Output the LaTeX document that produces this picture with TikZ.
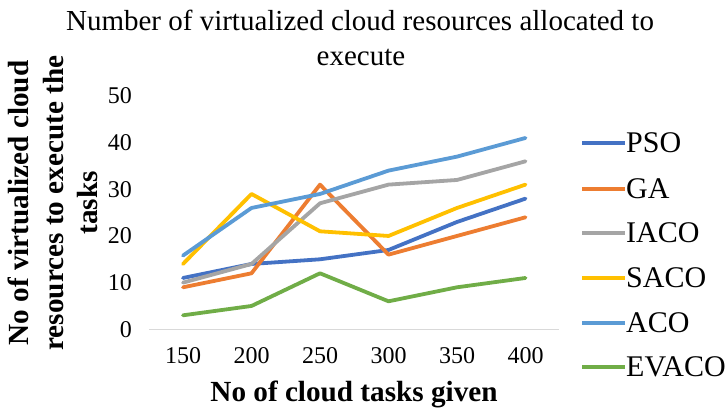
\documentclass[tikz,border=0pt]{standalone}
\usepackage{fontspec}
\setmainfont{Liberation Serif}
\definecolor{cPSO}{HTML}{4472C4}
\definecolor{cGA}{HTML}{ED7D31}
\definecolor{cIACO}{HTML}{A5A5A5}
\definecolor{cSACO}{HTML}{FFC000}
\definecolor{cACO}{HTML}{5B9BD5}
\definecolor{cEVACO}{HTML}{70AD47}
\definecolor{axisgray}{HTML}{D9D9D9}
\newcommand\drawseries[7]{%
  \draw[series,#1] (183,{329.3-4.667*#2}) -- (251.5,{329.3-4.667*#3}) -- (320,{329.3-4.667*#4})
    -- (388.5,{329.3-4.667*#5}) -- (457,{329.3-4.667*#6}) -- (525.5,{329.3-4.667*#7});}
\begin{document}
\begin{tikzpicture}[x=1pt,y=-1pt,
  series/.style={line width=3.8pt, line join=round, line cap=round},
  axisline/.style={axisgray, line width=1.6pt},
  titlefont/.style={font=\fontsize{29}{35}\selectfont, inner sep=0pt},
  tickfont/.style={font=\fontsize{24}{28}\selectfont, inner sep=0pt},
  axtitle/.style={font=\fontsize{29.2}{34.5}\selectfont\bfseries, inner sep=0pt},
  legtext/.style={font=\fontsize{30}{34}\selectfont, inner sep=0pt, anchor=west},
  legline/.style={line width=3.8pt}]
\useasboundingbox (0,0) rectangle (728,410);
\fill[white] (0,0) rectangle (728,410);
% title
\node[titlefont, anchor=base] (t1) at (360,30) {Number of virtualized cloud resources allocated to};
\node[titlefont, anchor=base] (t2) at (361,65) {execute};
% y axis title
\node[axtitle, rotate=90, align=center] (ytitle) at (53,203) {No of virtualized cloud\\resources to execute the\\tasks};
% axis line
\draw[axisline] (149,329.3) -- (559,329.3);
% y ticks
\foreach \v in {0,10,20,30,40,50}{
  \node[tickfont, anchor=east] (y\v) at (132,{329.3-4.667*\v}) {\v};
}
% x ticks
\foreach \lab [count=\i from 0] in {150,200,250,300,350,400}{
  \node[tickfont] (x\lab) at ({183+68.5*\i},356) {\lab};
}
% x axis title
\node[axtitle, anchor=base] (xtitle) at (354,401) {No of cloud tasks given};
% series
\drawseries{cPSO}{11}{14}{15}{17}{23}{28}
\drawseries{cGA}{9}{12}{31}{16}{20}{24}
\drawseries{cIACO}{10}{14}{27}{31}{32}{36}
\drawseries{cSACO}{14}{29}{21}{20}{26}{31}
\drawseries{cACO}{15.8}{26}{29}{34}{37}{41}
\drawseries{cEVACO}{3}{5}{12}{6}{9}{11}
% legend
\foreach \name/\yy in {PSO/143,GA/189,IACO/233,SACO/278,ACO/323,EVACO/367}{
  \draw[legline, c\name] (582,\yy) -- (625,\yy);
  \node[legtext] (leg\name) at (626,\yy) {\name};
}
\end{tikzpicture}
\end{document}
